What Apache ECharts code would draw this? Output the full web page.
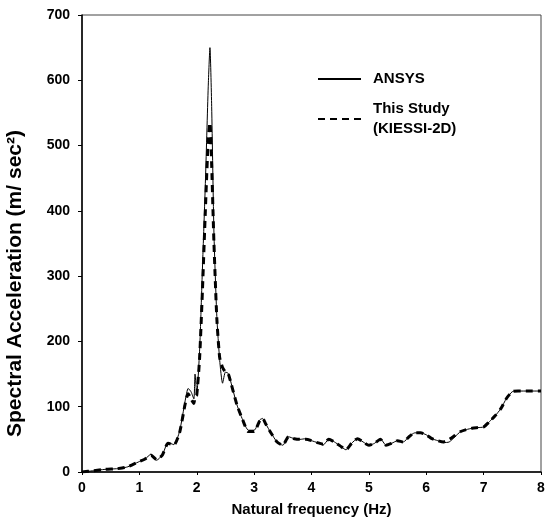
<!DOCTYPE html>
<html>
<head>
<meta charset="utf-8">
<script src="https://cdn.jsdelivr.net/npm/echarts@6/dist/echarts.min.js"></script>
<style>
  html, body { margin: 0; padding: 0; background: #fff; }
  #chart { width: 546px; height: 525px; }
</style>
</head>
<body>
<div id="chart"></div>
<script>
// frequency (Hz) shared by both curves
var freq = [0, 0.2, 0.4, 0.6, 0.7, 0.8, 0.9, 1.0, 1.1, 1.2, 1.3, 1.4, 1.5, 1.6, 1.7, 1.8, 1.85, 1.9, 1.95, 1.97, 2.0,
    2.05, 2.1, 2.15, 2.2, 2.23, 2.26, 2.3, 2.35, 2.4, 2.45, 2.5, 2.55, 2.6, 2.7, 2.8, 2.9, 3.0, 3.1, 3.15, 3.2,
    3.3, 3.4, 3.5, 3.6, 3.7, 3.8, 3.9, 4.0, 4.1, 4.2, 4.3, 4.4, 4.5, 4.6, 4.7, 4.8, 4.9, 5.0, 5.1, 5.2, 5.3,
    5.4, 5.5, 5.6, 5.7, 5.8, 5.9, 6.0, 6.1, 6.2, 6.3, 6.4, 6.5, 6.6, 6.7, 6.8, 6.9, 7.0, 7.1, 7.2, 7.3, 7.4,
    7.5, 7.6, 7.8, 8.0];
// ANSYS result
var ansys = [0, 2, 4, 5, 6, 8, 12, 16, 20, 27, 18, 26, 45, 42, 62, 110, 128, 123, 112, 150, 120,
    187, 314, 442, 590, 650, 560, 365, 238, 171, 136, 153, 151, 136, 103, 80, 64, 64, 80, 82, 74,
    59, 46, 41, 54, 51, 50, 51, 48, 45, 41, 50, 46, 40, 34, 44, 51, 46, 41, 44, 51, 41,
    44, 48, 46, 54, 60, 60, 57, 51, 48, 45, 46, 54, 62, 65, 67, 68, 69, 77, 86, 97, 113,
    123, 124, 124, 124];
// This Study (KIESSI-2D)
var kiessi = [0, 2, 4, 5, 6, 8, 12, 16, 20, 26, 19, 26, 44, 41, 60, 105, 120, 112, 105, 115, 118,
    175, 280, 400, 510, 535, 470, 350, 235, 175, 160, 153, 150, 135, 103, 80, 62, 62, 79, 82, 74,
    59, 46, 41, 54, 51, 50, 50, 48, 45, 43, 50, 46, 40, 34, 44, 51, 46, 41, 44, 50, 41,
    44, 48, 46, 54, 60, 60, 57, 51, 48, 46, 50, 56, 62, 65, 67, 68, 69, 77, 86, 97, 113,
    123, 124, 124, 124];
var yTicks = [0, 100, 200, 300, 400, 500, 600, 700];

function pairs(xs, ys) {
    var out = [];
    for (var i = 0; i < xs.length; i++) {
        out.push([xs[i], ys[i]]);
    }
    return out;
}

var chart = echarts.init(document.getElementById("chart"));
var font = "Liberation Sans, Arial, sans-serif";
var option = {
    animation: false,
    backgroundColor: '#fff',
    grid: {
        left: 82, right: 5, top: 15, bottom: 53,
        outerBoundsMode: 'none',
        show: true, borderColor: '#444', borderWidth: 1
    },
    legend: {
        orient: 'vertical',
        left: 312, top: 64,
        itemWidth: 43, itemHeight: 14, itemGap: 10,
        itemStyle: { opacity: 0 },
        data: ['ANSYS', 'This Study\n(KIESSI-2D)'],
        textStyle: { fontFamily: font, fontSize: 15, fontWeight: 'bold', color: '#000', lineHeight: 20, padding: [0, 0, 0, 7] }
    },
    xAxis: {
        type: 'value',
        min: 0, max: 8, interval: 1,
        name: 'Natural frequency (Hz)',
        nameLocation: 'middle', nameGap: 30,
        nameTextStyle: { fontFamily: font, fontSize: 15, fontWeight: 'bold', color: '#000' },
        axisLine: { lineStyle: { color: '#000', width: 1.5 } },
        axisTick: { show: true, length: 3, lineStyle: { color: '#000' } },
        axisLabel: { fontFamily: font, fontSize: 14, fontWeight: 'bold', color: '#000', margin: 9 },
        splitLine: { show: false }
    },
    yAxis: {
        type: 'value',
        min: 0, max: 700, interval: 100,
        name: 'Spectral Acceleration (m/ sec²)',
        nameLocation: 'middle', nameGap: 56,
        nameTextStyle: { fontFamily: font, fontSize: 21, fontWeight: 'bold', color: '#000', padding: [0, 80, 0, 0] },
        axisLine: { show: true, lineStyle: { color: '#000', width: 1.5 } },
        axisTick: { show: true, length: 4, lineStyle: { color: '#000' } },
        axisLabel: {
            fontFamily: font, fontSize: 14, fontWeight: 'bold', color: '#000', margin: 12,
            formatter: function (v) { return yTicks.indexOf(v) >= 0 ? String(v) : ''; }
        },
        splitLine: { show: false }
    },
    series: [{
        name: 'This Study\n(KIESSI-2D)',
        type: 'line',
        symbol: 'none',
        smooth: 0.2,
        z: 2,
        lineStyle: { color: '#000', width: 3, type: [7, 5] },
        itemStyle: { color: '#000' },
        data: pairs(freq, kiessi)
    }, {
        name: 'ANSYS',
        type: 'line',
        symbol: 'none',
        smooth: 0.2,
        z: 3,
        lineStyle: { color: '#000', width: 1 },
        itemStyle: { color: '#000' },
        data: pairs(freq, ansys)
    }]
};
chart.setOption(option);
</script>
</body>
</html>
